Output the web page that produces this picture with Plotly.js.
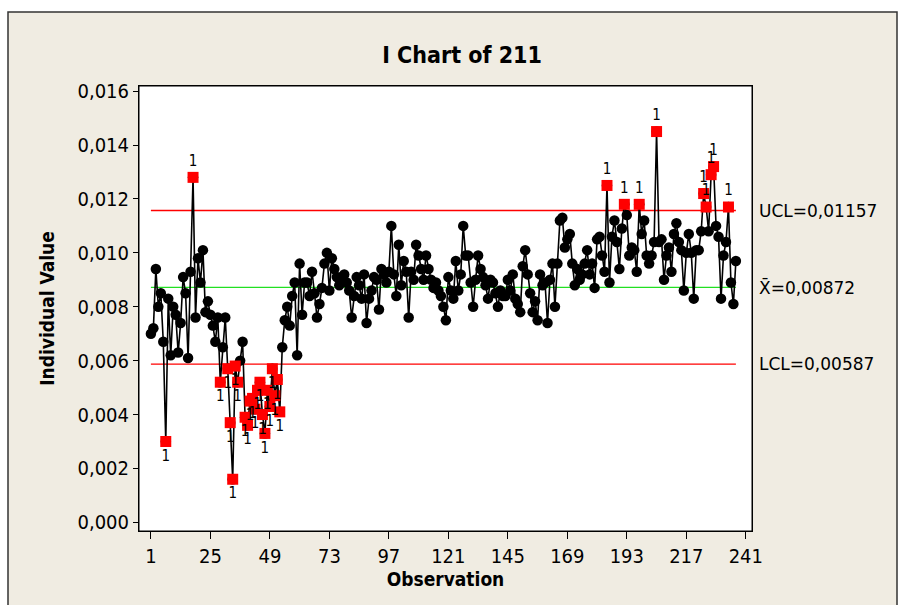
<!DOCTYPE html>
<html>
<head>
<meta charset="utf-8">
<script src="https://cdn.plot.ly/plotly-3.0.1.min.js"></script>
<style>html,body{margin:0;padding:0;background:#fff;}#chart{width:905px;height:605px;}</style>
</head>
<body>
<div id="chart"></div>
<script>
// Individual values (Observation 1..N)
const values = [
0.0070,0.0072,0.0094,0.0080,0.0085,0.0067,0.0030,0.0083,0.0062,0.0080,
0.0077,0.0063,0.0074,0.0091,0.0085,0.0061,0.0093,0.0128,0.0076,0.0098,
0.0089,0.0101,0.0078,0.0082,0.0077,0.0073,0.0067,0.0076,0.0052,0.0065,
0.0076,0.0057,0.0037,0.0016,0.0058,0.0052,0.0060,0.0067,0.0039,0.0036,
0.0045,0.0046,0.0042,0.0049,0.0052,0.0040,0.0033,0.0049,0.0043,0.0057,
0.0047,0.0053,0.0041,0.0065,0.0075,0.0080,0.0073,0.0084,0.0089,0.0062,
0.0096,0.0077,0.0089,0.0089,0.0084,0.0093,0.0085,0.0076,0.0081,0.0087,
0.0096,0.0100,0.0086,0.0098,0.0094,0.0091,0.0088,0.0091,0.0092,0.0089,
0.0086,0.0076,0.0084,0.0091,0.0088,0.0083,0.0092,0.0074,0.0083,0.0086,
0.0091,0.0090,0.0079,0.0094,0.0092,0.0089,0.0093,0.0110,0.0092,0.0084,
0.0103,0.0088,0.0097,0.0093,0.0076,0.0093,0.0090,0.0103,0.0099,0.0094,
0.0090,0.0099,0.0094,0.0090,0.0087,0.0089,0.0086,0.0084,0.0080,0.0075,
0.0091,0.0086,0.0083,0.0097,0.0086,0.0092,0.0110,0.0099,0.0099,0.0089,
0.0080,0.0090,0.0099,0.0094,0.0091,0.0088,0.0083,0.0090,0.0089,0.0085,
0.0080,0.0086,0.0084,0.0084,0.0090,0.0086,0.0092,0.0083,0.0081,0.0078,
0.0095,0.0101,0.0092,0.0085,0.0078,0.0082,0.0075,0.0092,0.0088,0.0089,
0.0074,0.0090,0.0096,0.0080,0.0096,0.0112,0.0113,0.0102,0.0105,0.0107,
0.0096,0.0088,0.0094,0.0090,0.0092,0.0096,0.0101,0.0092,0.0096,0.0087,
0.0105,0.0106,0.0099,0.0093,0.0125,0.0089,0.0106,0.0112,0.0104,0.0094,
0.0109,0.0118,0.0114,0.0099,0.0102,0.0101,0.0093,0.0118,0.0107,0.0112,
0.0099,0.0096,0.0099,0.0104,0.0145,0.0104,0.0105,0.0090,0.0099,0.0102,
0.0093,0.0107,0.0111,0.0104,0.0101,0.0086,0.0100,0.0107,0.0100,0.0083,
0.0101,0.0101,0.0108,0.0122,0.0117,0.0108,0.0129,0.0132,0.0110,0.0106,
0.0083,0.0099,0.0104,0.0117,0.0089,0.0081,0.0097
];
const UCL = 0.01157;
const MEAN = 0.00872;
const LCL = 0.00587;
const xTicks = [1,25,49,73,97,121,145,169,193,217,241];
const yTicks = [0,0.002,0.004,0.006,0.008,0.010,0.012,0.014,0.016];
const limitLabels = ["UCL=0,01157", "X\u0304=0,00872", "LCL=0,00587"];

const obs = values.map((v,i)=>i+1);
const first = obs[0], last = obs[obs.length-1];
const hiX=[],hiY=[],loX=[],loY=[];
values.forEach((v,i)=>{ if(v>UCL){hiX.push(obs[i]);hiY.push(v);} else if(v<LCL){loX.push(obs[i]);loY.push(v);} });

const tickFont = {family:'"Liberation Sans Narrow","DejaVu Sans Condensed",sans-serif', size:20, color:'#000'};
const labFont = {family:'"Liberation Sans Narrow","DejaVu Sans Condensed",sans-serif', size:15, color:'#000'};

const traces = [
 {x:[first,last], y:[UCL,UCL], mode:'lines', line:{color:'#ff0000',width:1.3}, hoverinfo:'skip'},
 {x:[first,last], y:[LCL,LCL], mode:'lines', line:{color:'#ff0000',width:1.3}, hoverinfo:'skip'},
 {x:[first,last], y:[MEAN,MEAN], mode:'lines', line:{color:'#22e022',width:1.3}, hoverinfo:'skip'},
 {x:obs, y:values, mode:'lines+markers', line:{color:'#000',width:1.6},
  marker:{symbol:'circle', size:10.5, color:'#000'}},
 {x:hiX, y:hiY, mode:'markers+text', text:hiX.map(()=> '1'), textposition:'top center', textfont:labFont,
  marker:{symbol:'square', size:11, color:'#ff0000'}},
 {x:loX, y:loY, mode:'markers+text', text:loX.map(()=> '1'), textposition:'bottom center', textfont:labFont,
  marker:{symbol:'square', size:11, color:'#ff0000'}}
];

const L=139, R=752, T=86, B=531;
const W=905, H=605;
const pw=R-L, ph=B-T;
const px = v => (v-L)/pw;
const py = v => (B-v)/ph;

const limitVals=[UCL,MEAN,LCL];
const annotations = limitVals.map((v,i)=>({
  xref:'paper', yref:'y', x:1, y:v, xanchor:'left', yanchor:'middle', xshift:5,
  text:limitLabels[i], showarrow:false,
  font:{family:'"DejaVu Sans",sans-serif', size:17, color:'#000'}
}));

const layout = {
  width:W, height:H,
  margin:{l:L, r:W-R, t:T, b:H-B, pad:0},
  paper_bgcolor:'#ffffff', plot_bgcolor:'#ffffff',
  separators:',.',
  showlegend:false,
  title:{text:'<b>I Chart of 211</b>', xref:'container', yref:'container', x:462/W, y:1-55/H,
    xanchor:'center', yanchor:'middle', font:{family:'"DejaVu Sans Condensed","DejaVu Sans",sans-serif', size:23, color:'#000'}},
  xaxis:{range:[-3.8,243.5], tickvals:xTicks, ticktext:xTicks.map(String), ticks:'outside', ticklen:7, tickcolor:'#000', tickwidth:1,
    showline:true, linecolor:'#000', linewidth:1, mirror:true, showgrid:false, zeroline:false,
    tickfont:tickFont,
    title:{text:'<b>Observation</b>', standoff:4, font:{family:'"DejaVu Sans Condensed","DejaVu Sans",sans-serif', size:19, color:'#000'}}},
  yaxis:{range:[-0.00032,0.01619], tickvals:yTicks, tickformat:'.3f', ticks:'outside', ticklen:5, tickcolor:'#000', tickwidth:1,
    showline:true, linecolor:'#000', linewidth:1, mirror:true, showgrid:false, zeroline:false,
    tickfont:tickFont,
    title:{text:'<b>Individual Value</b>', standoff:17, font:{family:'"DejaVu Sans Condensed","DejaVu Sans",sans-serif', size:19, color:'#000'}}},
  shapes:[
    {type:'rect', xref:'paper', yref:'paper', x0:px(8), x1:px(897), y0:py(640), y1:py(12), layer:'below',
     fillcolor:'#f0ece2', line:{color:'#333',width:1.5}},
    {type:'rect', xref:'paper', yref:'paper', x0:0, x1:1, y0:0, y1:1, layer:'below',
     fillcolor:'#ffffff', line:{color:'#000',width:1}}
  ],
  annotations:annotations
};

Plotly.newPlot('chart', traces, layout, {staticPlot:true, displayModeBar:false});
</script>
</body>
</html>
